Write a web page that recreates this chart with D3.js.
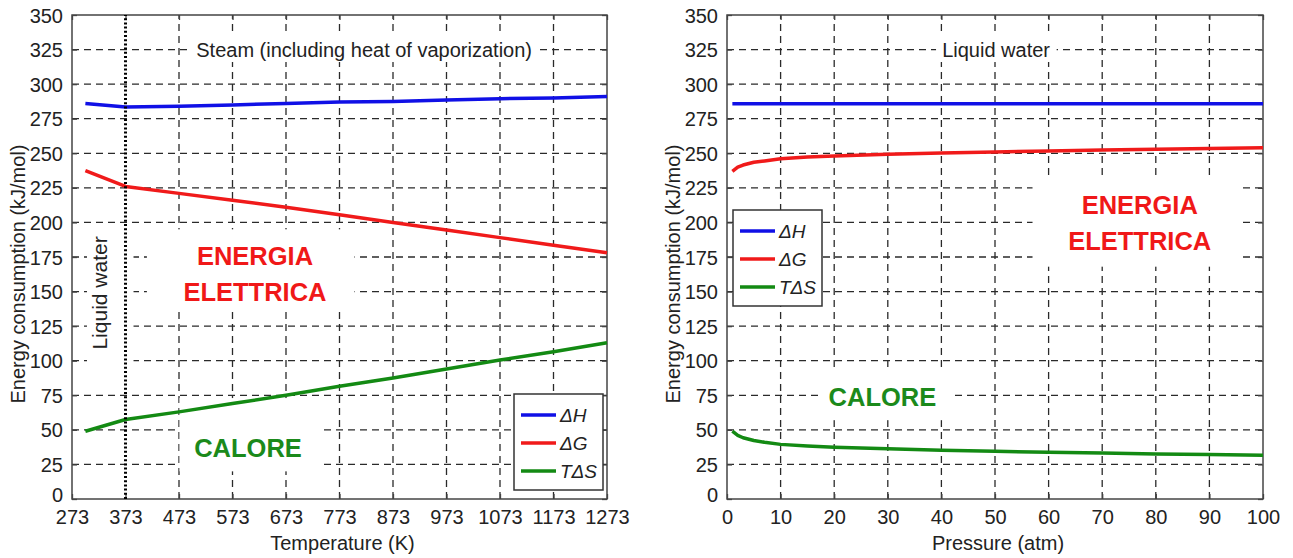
<!DOCTYPE html>
<html>
<head>
<meta charset="utf-8">
<script src="https://cdn.jsdelivr.net/npm/d3@7"></script>
<style>
  body { margin: 0; background: #fff; }
  svg { display: block; font-family: "Liberation Sans", Arial, sans-serif; }
</style>
</head>
<body>
<svg id="chart" width="1293" height="558"></svg>
<script>
// Left panel: energy vs temperature (K)
var temperatures = [298, 373, 473, 573, 673, 773, 873, 973, 1073, 1173, 1273];
var dHTemp  = [286, 283.5, 284, 285, 286, 287, 287.5, 288.5, 289.5, 290, 291];
var dGTemp  = [237.5, 226, 221, 216, 211, 205.5, 200, 194.5, 189, 183.5, 178];
var TdSTemp = [49, 57.5, 63, 69, 75, 81.5, 87.5, 94, 100.5, 106.5, 113];
var tempTicks = [273, 373, 473, 573, 673, 773, 873, 973, 1073, 1173, 1273];

// Right panel: energy vs pressure (atm)
var pressures = [1, 2, 3, 5, 7, 10, 15, 20, 30, 40, 50, 60, 70, 80, 90, 100];
var dHPress  = [285.8, 285.8, 285.8, 285.8, 285.8, 285.8, 285.8, 285.8, 285.8, 285.8, 285.8, 285.8, 285.8, 285.8, 285.8, 285.8];
var dGPress  = [237, 240, 241.5, 243.5, 244.5, 246, 247.3, 248, 249.3, 250.2, 251, 251.6, 252.3, 253, 253.5, 254];
var TdSPress = [49, 46, 44.3, 42.3, 41, 39.5, 38.3, 37.5, 36.3, 35.3, 34.5, 33.8, 33.2, 32.6, 32.2, 31.7];
var pressTicks = [0, 10, 20, 30, 40, 50, 60, 70, 80, 90, 100];

var energyTicks = [0, 25, 50, 75, 100, 125, 150, 175, 200, 225, 250, 275, 300, 325, 350];
var seriesNames = ['ΔH', 'ΔG', 'TΔS'];
var seriesColors = ['#1010e6', '#f01a1a', '#138a13'];

var svg = d3.select('#chart');

// Draw one MATLAB-style panel
function drawPanel(opt) {
  var x = d3.scaleLinear().domain(opt.xDomain).range([opt.left, opt.right]);
  var y = d3.scaleLinear().domain([0, 350]).range([499, 15]);
  var g = svg.append('g');

  // dashed grid
  var grid = g.append('g').attr('stroke', '#2a2a2a').attr('stroke-width', 1.3)
    .attr('stroke-dasharray', '7,5');
  grid.selectAll('line.gx').data(opt.xTicks.slice(1, -1).filter(function(t){ return t !== opt.skipGridX; }))
    .enter().append('line')
      .attr('x1', function(d){ return x(d); }).attr('x2', function(d){ return x(d); })
      .attr('y1', y(0)).attr('y2', y(350));
  grid.selectAll('line.gy').data(energyTicks.slice(1, -1))
    .enter().append('line')
      .attr('y1', function(d){ return y(d); }).attr('y2', function(d){ return y(d); })
      .attr('x1', x.range()[0]).attr('x2', x.range()[1]);

  // white patches behind pasted annotations
  opt.patches.forEach(function(p){
    g.append('rect')
      .attr('x', x(p[0])).attr('y', y(p[3]))
      .attr('width', x(p[1]) - x(p[0])).attr('height', y(p[2]) - y(p[3]))
      .attr('fill', '#fff');
  });

  // frame
  g.append('rect')
    .attr('x', x.range()[0]).attr('y', y(350))
    .attr('width', x.range()[1] - x.range()[0]).attr('height', y(0) - y(350))
    .attr('fill', 'none').attr('stroke', '#444').attr('stroke-width', 1.5);

  // axes with inward ticks on all sides
  var fmt = function(d){ return d; };
  var axB = g.append('g').attr('transform', 'translate(0,' + y(0) + ')')
    .call(d3.axisBottom(x).tickValues(opt.xTicks).tickSize(-5).tickPadding(11).tickFormat(fmt));
  var axT = g.append('g').attr('transform', 'translate(0,' + y(350) + ')')
    .call(d3.axisTop(x).tickValues(opt.xTicks).tickSize(-5).tickFormat(''));
  var axL = g.append('g').attr('transform', 'translate(' + x.range()[0] + ',0)')
    .call(d3.axisLeft(y).tickValues(energyTicks).tickSize(-5).tickPadding(9).tickFormat(fmt));
  var axR = g.append('g').attr('transform', 'translate(' + x.range()[1] + ',0)')
    .call(d3.axisRight(y).tickValues(energyTicks).tickSize(-5).tickFormat(''));
  [axB, axT, axL, axR].forEach(function(a){
    a.select('.domain').remove();
    a.selectAll('.tick line').attr('stroke', '#444').attr('stroke-width', 1.3);
    a.selectAll('text').attr('font-size', 20).attr('fill', '#222')
      .attr('font-family', '"Liberation Sans", Arial, sans-serif');
  });
  axL.selectAll('text').attr('dy', '0.35em');
  // the zero label sits a little higher, clear of the x tick labels
  axL.selectAll('.tick').filter(function(d){ return d === 0; }).select('text').attr('dy', '0.1em');
  axB.selectAll('text').attr('dy', '0.7em');

  // axis titles
  g.append('text')
    .attr('x', (x.range()[0] + x.range()[1]) / 2 + 3).attr('y', 550)
    .attr('text-anchor', 'middle').attr('font-size', 20).attr('fill', '#222')
    .text(opt.xLabel);
  g.append('text')
    .attr('transform', 'translate(' + (x.range()[0] - 47) + ',' + 274 + ') rotate(-90)')
    .attr('text-anchor', 'middle').attr('font-size', 20).attr('fill', '#222')
    .text('Energy consumption (kJ/mol)');

  // annotation texts
  opt.notes.forEach(function(n){
    g.append('text')
      .attr('transform', 'translate(' + x(n.x) + ',' + y(n.y) + ')' + (n.rot ? ' rotate(-90)' : ''))
      .attr('text-anchor', 'middle').attr('dy', '0.35em')
      .attr('font-size', n.size).attr('font-weight', n.bold ? 'bold' : 'normal')
      .attr('fill', n.color).text(n.text);
  });

  // data lines
  var line = d3.line()
    .x(function(d){ return x(d[0]); })
    .y(function(d){ return y(d[1]); });
  opt.series.forEach(function(vals, i){
    g.append('path')
      .datum(opt.xs.map(function(v, j){ return [v, vals[j]]; }))
      .attr('d', line).attr('fill', 'none')
      .attr('stroke', seriesColors[i]).attr('stroke-width', 3.5)
      .attr('stroke-linejoin', 'round');
  });

  // dotted phase-change line
  if (opt.dotted !== undefined) {
    g.append('line')
      .attr('x1', x(opt.dotted)).attr('x2', x(opt.dotted))
      .attr('y1', y(0)).attr('y2', y(350))
      .attr('stroke', '#000').attr('stroke-width', 3)
      .attr('stroke-dasharray', '2,2.2');
  }

  // legend
  var lg = g.append('g').attr('transform', 'translate(' + opt.legend[0] + ',' + opt.legend[1] + ')');
  lg.append('rect').attr('width', 89).attr('height', 96)
    .attr('fill', '#fff').attr('stroke', '#333').attr('stroke-width', 1.5);
  seriesNames.forEach(function(name, i){
    var row = lg.append('g').attr('transform', 'translate(0,' + (21 + i * 28) + ')');
    row.append('line').attr('x1', 7).attr('x2', 42).attr('y1', 0).attr('y2', 0)
      .attr('stroke', seriesColors[i]).attr('stroke-width', 3.5);
    row.append('text').attr('x', 46).attr('dy', '0.35em')
      .attr('font-size', 19).attr('font-style', 'italic').attr('fill', '#222')
      .text(name);
  });
}

drawPanel({
  xDomain: [273, 1273], left: 72, right: 607,
  xTicks: tempTicks, skipGridX: 373, dotted: 373,
  xLabel: 'Temperature (K)',
  xs: temperatures, series: [dHTemp, dGTemp, TdSTemp],
  legend: [514, 394],
  patches: [
    [494, 1147, 316, 337],     // steam note
    [301, 388, 95, 193],       // liquid water (vertical)
    [413, 801, 137, 195],      // energia elettrica
    [474, 740, 20, 73]         // calore
  ],
  notes: [
    {text: 'Steam (including heat of vaporization)', x: 819, y: 325, size: 20, color: '#222'},
    {text: 'Liquid water', x: 325, y: 149, size: 21, color: '#222', rot: true},
    {text: 'ENERGIA', x: 615, y: 176, size: 25.5, bold: true, color: '#f01818'},
    {text: 'ELETTRICA', x: 615, y: 149.5, size: 25.5, bold: true, color: '#f01818'},
    {text: 'CALORE', x: 602, y: 36.5, size: 25.5, bold: true, color: '#1b8a1b'}
  ]
});

drawPanel({
  xDomain: [0, 100], left: 727, right: 1263,
  xTicks: pressTicks,
  xLabel: 'Pressure (atm)',
  xs: pressures, series: [dHPress, dGPress, TdSPress],
  legend: [733, 210],
  patches: [
    [39, 61.5, 316, 337],      // liquid water note
    [57, 95.5, 168, 232],      // energia elettrica
    [17, 42, 57, 92]           // calore
  ],
  notes: [
    {text: 'Liquid water', x: 50.2, y: 325, size: 20, color: '#222'},
    {text: 'ENERGIA', x: 77, y: 212.5, size: 25.5, bold: true, color: '#f01818'},
    {text: 'ELETTRICA', x: 77, y: 186.5, size: 25.5, bold: true, color: '#f01818'},
    {text: 'CALORE', x: 29, y: 74, size: 25.5, bold: true, color: '#1b8a1b'}
  ]
});
</script>
</body>
</html>
